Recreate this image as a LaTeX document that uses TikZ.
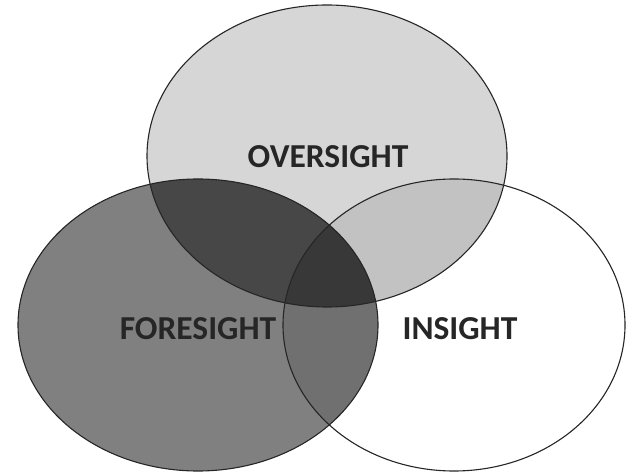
\documentclass[tikz,border=0pt]{standalone}
\usepackage{fontspec}
\setmainfont{Carlito}
\begin{document}
\begin{tikzpicture}[x=1pt,y=-1pt,
  lbl/.style={anchor=base,font=\fontsize{33.5}{36}\selectfont\bfseries,text=black!85},
  rim/.style={draw=black!85,line width=1.1pt}]
\useasboundingbox (0,0) rectangle (627,473);
\fill[white] (0,0) rectangle (627,473);
\def\topE{(327,156) ellipse [x radius=180pt, y radius=151pt]}
\def\leftE{(198,325) ellipse [x radius=180pt, y radius=146pt]}
\def\rightE{(454,325) ellipse [x radius=171pt, y radius=146pt]}
% base fills
\fill[black!16] \topE;
\fill[black!50] \leftE;
% intersections
\begin{scope}
  \clip \topE;
  \fill[black!24] \rightE;
  \fill[black!72] \leftE;
\end{scope}
\begin{scope}
  \clip \leftE;
  \fill[black!56] \rightE;
  \clip \topE;
  \fill[black!78] \rightE;
\end{scope}
% outlines
\draw[rim] \topE;
\draw[rim] \leftE;
\draw[rim] \rightE;
% labels
\node[lbl] (over) at (328,168) {OVERSIGHT};
\node[lbl] (fore) at (198,339) {FORESIGHT};
\node[lbl] (ins) at (460,340) {INSIGHT};
\end{tikzpicture}
\end{document}
